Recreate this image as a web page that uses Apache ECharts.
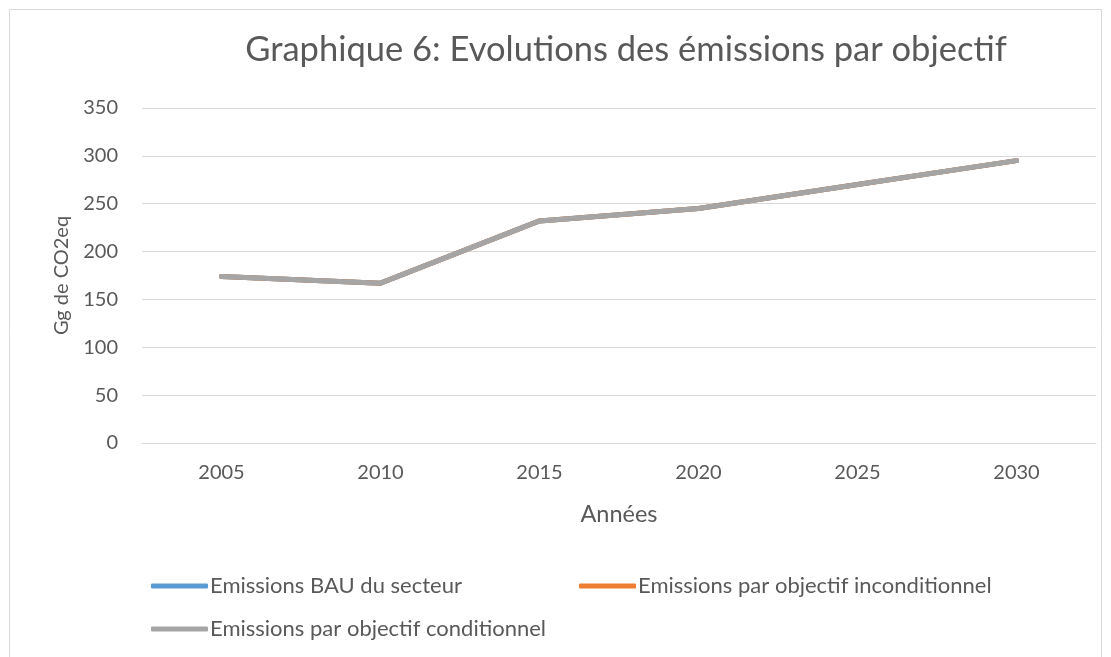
<!DOCTYPE html>
<html lang="fr">
<head>
    <meta charset="UTF-8">
    <title>Graphique 6</title>
    <script src="https://cdn.jsdelivr.net/npm/echarts@6/dist/echarts.min.js"></script>
</head>
<body style="margin:0;background:#fff">
<div id="chart" style="width:1111px;height:657px;"></div>
<script>
    // données
    var annees = ['2005', '2010', '2015', '2020', '2025', '2030'];
    var emissionsBAU = [174, 167, 232, 245, 270, 295];
    var emissionsInconditionnel = [174, 167, 232, 245, 270, 295];
    var emissionsConditionnel = [174, 167, 232, 245, 270, 295];
    var noms = ['Emissions BAU du secteur', 'Emissions par objectif inconditionnel', 'Emissions par objectif conditionnel'];
    var couleurs = ['#5b9bd5', '#ed7d31', '#a5a5a5'];

    var police = 'Lato';
    var gris = '#595959';

    var myChart = echarts.init(document.getElementById('chart'));

    function ligne(i, data) {
        return {
            name: noms[i],
            type: 'line',
            data: data,
            symbol: 'none',
            lineStyle: {width: 5, color: couleurs[i], cap: 'round', join: 'round'},
            itemStyle: {color: couleurs[i]},
            z: 2 + i
        };
    }

    function legende(nom, left, top) {
        return {
            data: [nom],
            left: left,
            top: top,
            itemWidth: 57,
            itemHeight: 5,
            itemGap: 0,
            icon: 'roundRect',
            textStyle: {color: gris, fontSize: 22, fontFamily: police, padding: [0, 0, 0, -3]}
        };
    }

    var option = {
        animation: false,
        title: {
            text: 'Graphique 6: Evolutions des émissions par objectif',
            left: 621,
            textAlign: 'center',
            top: 27,
            textStyle: {color: gris, fontSize: 34.5, fontWeight: 'normal', fontFamily: police}
        },
        graphic: [{
            type: 'rect',
            shape: {x: 9.5, y: 9.5, width: 1092, height: 700},
            style: {fill: 'none', stroke: '#d9d9d9', lineWidth: 1},
            silent: true
        }],
        grid: {left: 142, right: 15, top: 108, bottom: 214, containLabel: false},
        legend: [
            legende(noms[0], 146, 570),
            legende(noms[1], 574, 570),
            legende(noms[2], 146, 613)
        ],
        xAxis: {
            type: 'category',
            data: annees,
            boundaryGap: true,
            name: 'Années',
            nameLocation: 'middle',
            nameGap: 59,
            nameTextStyle: {color: gris, fontSize: 23.5, fontFamily: police},
            axisLine: {lineStyle: {color: '#d9d9d9'}},
            axisTick: {show: false},
            axisLabel: {color: gris, fontSize: 20, fontFamily: police, margin: 20}
        },
        yAxis: {
            type: 'value',
            min: 0,
            max: 350,
            interval: 50,
            name: 'Gg de CO2eq',
            nameLocation: 'middle',
            nameGap: 70,
            nameTextStyle: {color: gris, fontSize: 20, fontFamily: police},
            axisLine: {show: false},
            axisTick: {show: false},
            axisLabel: {color: gris, fontSize: 20, fontFamily: police, margin: 24},
            splitLine: {lineStyle: {color: '#d9d9d9', width: 1}}
        },
        series: [
            ligne(0, emissionsBAU),
            ligne(1, emissionsInconditionnel),
            ligne(2, emissionsConditionnel)
        ]
    };

    myChart.setOption(option);
</script>
</body>
</html>
